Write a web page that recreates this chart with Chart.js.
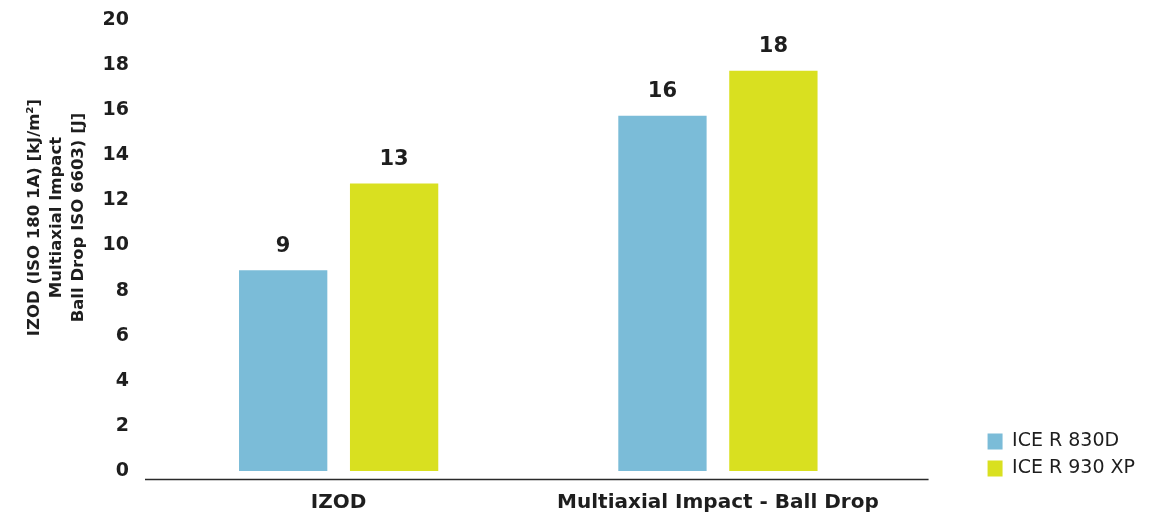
<!DOCTYPE html>
<html>
<head>
<meta charset="utf-8">
<script src="https://cdn.jsdelivr.net/npm/chart.js@4.4.1/dist/chart.umd.min.js"></script>
<style>
  html, body { margin: 0; padding: 0; background: #ffffff; }
  #wrap { width: 1163px; height: 516px; position: relative; }
</style>
</head>
<body>
<div id="wrap"><canvas id="c"></canvas></div>
<script>
// ---- data ----
const categories = ['IZOD', 'Multiaxial Impact - Ball Drop'];
const seriesNames = ['ICE R 830D', 'ICE R 930 XP'];
const ice830d = [8.9, 15.75];
const ice930xp = [12.75, 17.75];
const yAxisTitle = ['IZOD (ISO 180 1A) [kJ/m\u00b2]', 'Multiaxial Impact', 'Ball Drop ISO 6603) [J]'];
const yMin = 0, yMax = 20, yStep = 2;

const FONT = "'DejaVu Sans', sans-serif";
const TEXT = '#1e1e1e';

const valueLabels = {
  id: 'valueLabels',
  afterDatasetsDraw(chart) {
    const ctx = chart.ctx;
    ctx.save();
    ctx.font = "bold 21px " + FONT;
    ctx.fillStyle = TEXT;
    ctx.textAlign = 'center';
    ctx.textBaseline = 'middle';
    chart.data.datasets.forEach((ds, i) => {
      const meta = chart.getDatasetMeta(i);
      meta.data.forEach((el, j) => {
        ctx.fillText(String(Math.round(ds.data[j])), el.x, el.y - 24);
      });
    });
    ctx.restore();
  }
};

const axisDecor = {
  id: 'axisDecor',
  afterDraw(chart) {
    const ctx = chart.ctx;
    const a = chart.chartArea;
    ctx.save();
    ctx.strokeStyle = '#2a2a2a';
    ctx.lineWidth = 1.6;
    ctx.beginPath();
    const y = Math.round(a.bottom + 8) + 0.5;
    ctx.moveTo(a.left - 4, y);
    ctx.lineTo(a.right + 21, y);
    ctx.stroke();
    ctx.font = "bold 16.5px " + FONT;
    ctx.fillStyle = TEXT;
    ctx.textAlign = 'center';
    ctx.textBaseline = 'middle';
    const cy = (a.top + a.bottom) / 2 - 28;
    yAxisTitle.forEach((t, k) => {
      ctx.save();
      ctx.translate(a.left - 114 + k * 22, cy);
      ctx.rotate(-Math.PI / 2);
      ctx.fillText(t, 0, 0);
      ctx.restore();
    });
    ctx.restore();
  }
};

function noPad(s) { s.paddingTop = 0; s.paddingBottom = 0; }

new Chart(document.getElementById('c'), {
  type: 'bar',
  data: {
    labels: categories,
    datasets: [
      { label: seriesNames[0], data: ice830d, backgroundColor: '#7bbcd8', barPercentage: 0.796, categoryPercentage: 0.585 },
      { label: seriesNames[1], data: ice930xp, backgroundColor: '#d9e020', barPercentage: 0.796, categoryPercentage: 0.585 }
    ]
  },
  options: {
    responsive: true,
    maintainAspectRatio: false,
    animation: false,
    layout: { padding: { top: 20, right: 18, bottom: 3, left: 0 } },
    plugins: {
      legend: {
        position: 'right',
        align: 'end',
        labels: {
          boxWidth: 15,
          boxHeight: 16,
          padding: 8,
          color: TEXT,
          font: { family: FONT, size: 19 },
          generateLabels(chart) {
            const items = Chart.defaults.plugins.legend.labels.generateLabels(chart);
            // invisible spacer row below the two entries
            items.push({ text: '', fillStyle: 'rgba(0,0,0,0)', strokeStyle: 'rgba(0,0,0,0)', lineWidth: 0, hidden: false, datasetIndex: -1 });
            return items;
          }
        },
        onClick() {}
      },
      tooltip: { enabled: false }
    },
    scales: {
      x: {
        grid: { display: false, drawTicks: false },
        border: { display: false },
        ticks: { color: TEXT, padding: 22, font: { family: FONT, size: 20, weight: 'bold', lineHeight: 1.0 } },
        afterFit(s) { s.height = 42; }
      },
      y: {
        min: yMin, max: yMax,
        grid: { display: false, drawTicks: false },
        border: { display: false },
        ticks: { stepSize: yStep, color: TEXT, padding: 20, font: { family: FONT, size: 19, weight: 'bold' } },
        afterFit(s) { s.width = 149; noPad(s); }
      },
      yR: {
        position: 'right',
        display: true,
        grid: { display: false, drawTicks: false },
        border: { display: false },
        ticks: { display: false },
        afterFit(s) { s.width = 72; noPad(s); }
      }
    }
  },
  plugins: [valueLabels, axisDecor]
});
</script>
</body>
</html>
